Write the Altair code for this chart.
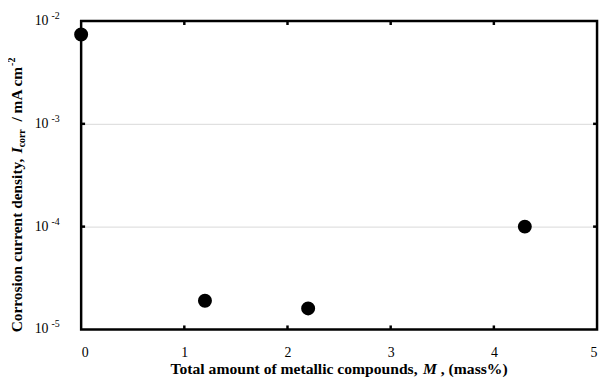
import altair as alt
import pandas as pd

# ---- data ----
metal_mass = [0.0, 1.2, 2.2, 4.3]
icorr = [7.4e-3, 1.9e-5, 1.6e-5, 1.0e-4]
x_ticks = [0, 1, 2, 3, 4, 5]
x_inner_ticks = [1, 2, 3, 4]
y_decades = [1e-5, 1e-4, 1e-3, 1e-2]
y_exponents = ["-5", "-4", "-3", "-2"]
y_inner_ticks = [1e-4, 1e-3]

W, H = 522, 312
SERIF = "Liberation Serif"

# Times bold / bold-italic advance widths (per 1000 em) for composing rich titles
BOLD = {" ": 250, ",": 250, "/": 278, "(": 333, ")": 333, "%": 1000, "-": 333, "2": 500,
        "A": 722, "C": 722, "I": 389, "M": 944, "T": 667, "a": 500, "c": 444, "d": 556,
        "e": 444, "f": 333, "i": 278, "l": 278, "m": 833, "n": 556, "o": 500, "p": 556,
        "r": 444, "s": 389, "t": 333, "u": 556, "y": 500}
BOLDIT = {"I": 389, "M": 889}


def tw(s, size, table=BOLD):
    return sum(table.get(c, 500) for c in s) * size / 1000.0


df = pd.DataFrame({"M": metal_mass, "I": icorr})
xs = alt.Scale(domain=[0, 5], nice=False, zero=False)
ys = alt.Scale(type="log", domain=[1e-5, 1e-2], nice=False)

points = alt.Chart(df).mark_circle(size=200, color="black", opacity=1).encode(
    x=alt.X("M:Q", scale=xs,
            axis=alt.Axis(values=x_ticks, title=None, ticks=False, domain=False, grid=False,
                          labelFont=SERIF, labelFontSize=14, labelColor="black",
                          labelPadding=16, format="d")),
    y=alt.Y("I:Q", scale=ys,
            axis=alt.Axis(values=y_inner_ticks, title=None, ticks=False, domain=False,
                          labels=False, grid=True, gridColor="#d9d9d9", gridWidth=1)),
)

frame = alt.Chart(pd.DataFrame({"k": [0]})).mark_rect(
    fill=None, stroke="black", strokeWidth=2.5).encode(
    x=alt.value(0), x2=alt.value(W), y=alt.value(0), y2=alt.value(H))

xt = pd.DataFrame({"x": x_inner_ticks})
yt = pd.DataFrame({"y": y_inner_ticks})
tick_style = dict(color="black", strokeWidth=2.5)
tb = alt.Chart(xt).mark_rule(**tick_style).encode(
    x=alt.X("x:Q", scale=xs), y=alt.value(H), y2=alt.value(H - 4))
tt = alt.Chart(xt).mark_rule(**tick_style).encode(
    x=alt.X("x:Q", scale=xs), y=alt.value(0), y2=alt.value(4))
tl = alt.Chart(yt).mark_rule(**tick_style).encode(
    y=alt.Y("y:Q", scale=ys), x=alt.value(0), x2=alt.value(4))
tr = alt.Chart(yt).mark_rule(**tick_style).encode(
    y=alt.Y("y:Q", scale=ys), x=alt.value(W), x2=alt.value(W - 4))

ylab = pd.DataFrame({"v": y_decades, "e": y_exponents, "b": ["10"] * 4})
ten = alt.Chart(ylab).mark_text(font=SERIF, fontSize=14, align="right", baseline="middle",
                                color="black").encode(
    y=alt.Y("v:Q", scale=ys), x=alt.value(-33), text="b:N")
exp_ = alt.Chart(ylab).mark_text(font=SERIF, fontSize=10, align="left", baseline="middle",
                                 color="black", dy=-5).encode(
    y=alt.Y("v:Q", scale=ys), x=alt.value(-30), text="e:N")

# ---- y title (rotated, composed) ----
yfs = 15.6
yx, ybase = -60, 315
p1 = "Corrosion current density,"
p2 = "I"
p3 = "corr"
p4 = "/ mA cm"
p5 = "-2"
d1 = 0
d2 = d1 + tw(p1 + " ", yfs)
d3 = d2 + tw(p2, yfs, BOLDIT)
d4 = d3 + tw(p3, 10) + tw("  ", yfs)
d5 = d4 + tw(p4, yfs)
ytitle_parts = [
    (p1, yfs, "normal", d1, 0),
    (p2, yfs, "italic", d2, 0),
    (p3, 10, "normal", d3, 3),
    (p4, yfs, "normal", d4, 0),
    (p5, 10, "normal", d5, -7),
]
ylayers = []
for txt, fs, st, dx, dy in ytitle_parts:
    ylayers.append(alt.Chart(pd.DataFrame({"t": [txt]})).mark_text(
        font=SERIF, fontSize=fs, fontWeight="bold", fontStyle=st, angle=270,
        align="left", baseline="alphabetic", dx=dx, dy=dy, color="black").encode(
        x=alt.value(yx), y=alt.value(ybase), text="t:N"))

# ---- x title (composed) ----
xfs = 15.8
q1 = "Total amount of metallic compounds,"
q2 = "M"
q3 = ", (mass%)"
w1 = tw(q1 + " ", xfs)
w2 = tw(q2, xfs, BOLDIT) + tw(" ", xfs)
wtot = w1 + w2 + tw(q3, xfs)
x0 = W / 2 - wtot / 2
xparts = [
    (q1, "normal", x0),
    (q2, "italic", x0 + w1),
    (q3, "normal", x0 + w1 + w2),
]
xlayers = []
for txt, st, px in xparts:
    xlayers.append(alt.Chart(pd.DataFrame({"t": [txt]})).mark_text(
        font=SERIF, fontSize=xfs, fontWeight="bold", fontStyle=st, align="left",
        baseline="alphabetic", color="black").encode(
        x=alt.value(px), y=alt.value(357), text="t:N"))

chart = alt.layer(points, frame, tb, tt, tl, tr, ten, exp_, *ylayers, *xlayers).properties(
    width=W, height=H,
    background="white",
    autosize=alt.AutoSizeParams(type="none"),
    padding={"left": 74, "top": 11, "right": 4, "bottom": 50},
).configure_view(stroke=None)

chart.save("out.html", embed_options={"renderer": "svg", "actions": False})
